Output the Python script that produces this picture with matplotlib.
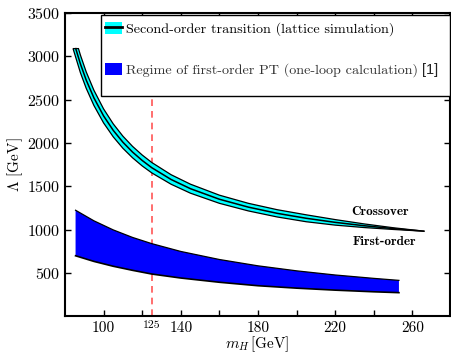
import matplotlib
matplotlib.use("Agg")
from matplotlib import pyplot as plt
from matplotlib.patches import Patch, Rectangle
from matplotlib.lines import Line2D

plt.rcParams["font.family"] = ["cmr10", "DejaVu Sans"]
plt.rcParams["mathtext.fontset"] = "cm"
plt.rcParams["axes.unicode_minus"] = False
plt.rcParams["axes.formatter.use_mathtext"] = True

# second-order transition band (lattice), Lambda [GeV] vs m_H [GeV]
m_band = [88, 91, 95, 100, 105, 110, 115, 120, 125, 135, 145, 160, 175, 190, 205, 220, 235, 250, 266]
lam_mid = [2914, 2727, 2521, 2313, 2146, 2009, 1895, 1798, 1714, 1578, 1472, 1350, 1259, 1187, 1130, 1083, 1044, 1011, 981]
lam_hi = [3016, 2822, 2609, 2394, 2221, 2079, 1961, 1861, 1774, 1633, 1524, 1397, 1303, 1229, 1170, 1115, 1065, 1021, 981]
lam_lo = [2812, 2632, 2433, 2232, 2071, 1939, 1829, 1735, 1654, 1523, 1420, 1303, 1215, 1145, 1090, 1051, 1023, 1001, 981]
# top cap of the band
lam_cap = 3090
m_cap_hi, m_cap_mid, m_cap_lo = 87.0, 85.6, 84.2

# first-order region (one-loop)
m_fo = [85.5, 95, 105, 115, 125, 140, 160, 180, 200, 220, 240, 253]
fo_top = [1223, 1101, 996, 909, 837, 747, 654, 581, 523, 475, 436, 413]
fo_bot = [697, 632, 576, 529, 486, 440, 391, 351, 323, 300, 281, 271]

xticks = [100, 120, 140, 160, 180, 200, 220, 240, 260]
xticklabels = ["100", "", "140", "", "180", "", "220", "", "260"]
yticks = [500, 1000, 1500, 2000, 2500, 3000, 3500]
m_higgs = 125

fig = plt.figure(figsize=(4.51, 3.54), dpi=100)
ax = fig.add_axes([0.144, 0.107, 0.854, 0.856])

# cyan band
poly_x = [m_cap_lo, m_cap_hi] + m_band + m_band[::-1]
poly_y = [lam_cap, lam_cap] + lam_hi + lam_lo[::-1]
ax.fill(poly_x, poly_y, facecolor="cyan", edgecolor="black", linewidth=0.9, zorder=3)
ax.plot([m_cap_mid] + m_band, [lam_cap] + lam_mid, color="black", linewidth=1.1, zorder=4)

# blue region
ax.fill_between(m_fo, fo_bot, fo_top, facecolor="blue", edgecolor="none", zorder=2)
ax.plot(m_fo, fo_top, color="black", linewidth=0.9, zorder=3)
ax.plot(m_fo, fo_bot, color="black", linewidth=1.2, zorder=3)

ax.axvline(m_higgs, color="#ff5555", linestyle=(0, (4, 3)), linewidth=1.2, zorder=1)

ax.text(243.4, 1204, "Crossover", family="cmb10", fontsize=9.5, ha="center", va="center")
ax.text(245.3, 858, "First-order", family="cmb10", fontsize=9.5, ha="center", va="center")

ax.set_xlim(80, 279.5)
ax.set_ylim(0, 3500)
ax.set_xticks(xticks)
ax.set_xticklabels(xticklabels, fontsize=11)
ax.set_yticks(yticks)
ax.tick_params(axis="y", labelsize=11.5)
ax.tick_params(direction="in", top=True, right=True, length=4, width=1)
ax.text(m_higgs, -0.015, "125", transform=ax.get_xaxis_transform(), fontsize=8.5,
        ha="center", va="top")
for s in ax.spines.values():
    s.set_linewidth(1.5)

ax.set_xlabel("$m_H\\,$[GeV]", fontsize=11, labelpad=0)
ax.set_ylabel("$\\Lambda$ [GeV]", fontsize=11, labelpad=1)

# legend box
ax.add_patch(Rectangle((0.0935, 0.726), 0.905, 0.267, transform=ax.transAxes,
                       facecolor="white", edgecolor="black", linewidth=1.0,
                       zorder=9, clip_on=False))

h1 = (Patch(facecolor="cyan", edgecolor="none"), Line2D([], [], color="black", linewidth=2))
h2 = Patch(facecolor="blue", edgecolor="none")
kw = dict(loc="center left", fontsize=10.2, frameon=False, borderpad=0, borderaxespad=0,
          handlelength=1.2, handleheight=0.95, handletextpad=0.25)
leg1 = ax.legend([h1], ["Second-order transition (lattice simulation)"],
                 bbox_to_anchor=(0.104, 0.947), **kw)
leg1.set_zorder(10)
ax.add_artist(leg1)
leg2 = ax.legend([h2], ["Regime of first-order PT (one-loop calculation)"],
                 bbox_to_anchor=(0.104, 0.812), **kw)
leg2.set_zorder(10)
leg2.get_texts()[0].set_color("#333333")

# reference tag after second legend entry
fig.canvas.draw()
bb = leg2.get_texts()[0].get_window_extent()
x0, y0 = fig.transFigure.inverted().transform((bb.x1, (bb.y0 + bb.y1) / 2))
fig.text(x0 + 0.01, y0, "[1]", family="Liberation Sans", fontsize=10.5, color="#222222",
         ha="left", va="center", zorder=11)

fig.savefig("out.png", dpi=100)
